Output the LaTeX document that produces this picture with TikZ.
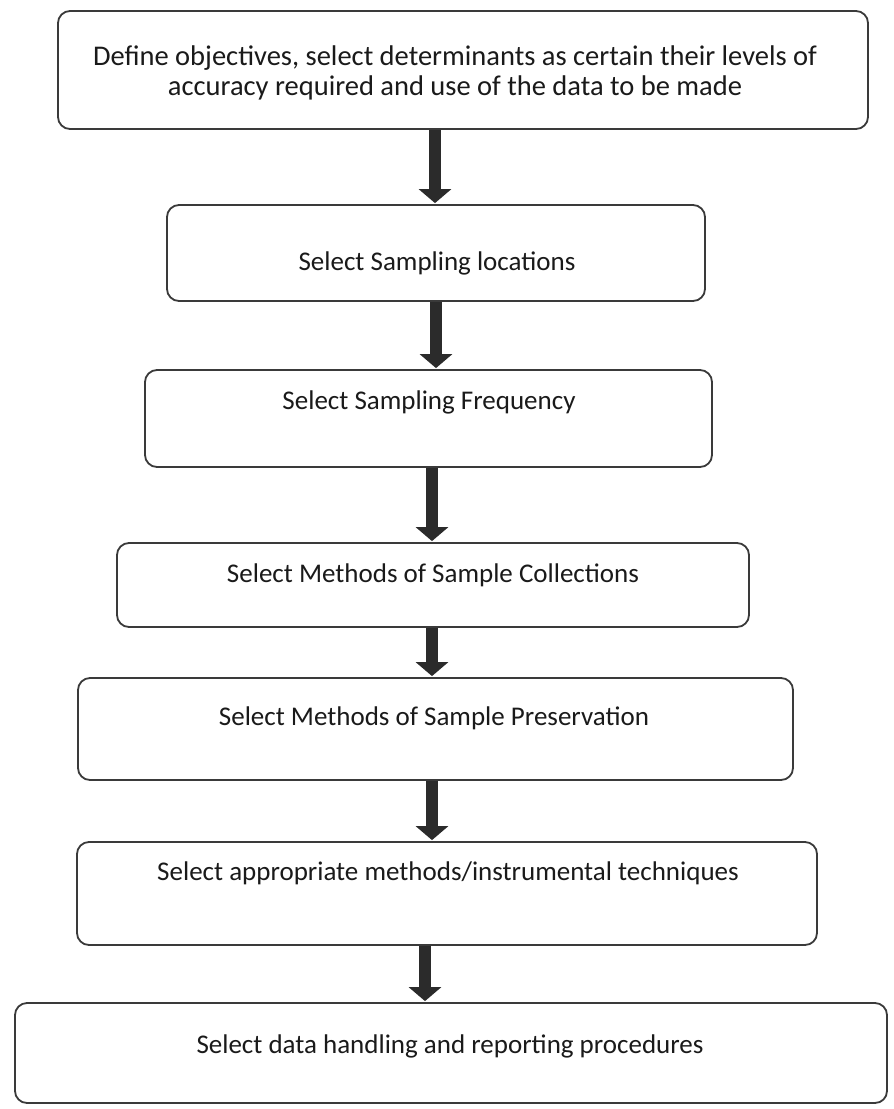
\documentclass[tikz,border=0pt]{standalone}
\usepackage{fontspec}
\setmainfont{Carlito}
\usetikzlibrary{arrows.meta}
\definecolor{boxline}{HTML}{3A3A3A}
\definecolor{arrowc}{HTML}{2B2B2B}
\definecolor{txt}{HTML}{1A1A1A}
\tikzset{
  flowbox/.style={draw=boxline, line width=1.8pt, rounded corners=12pt, inner sep=0pt},
  flowtext/.style={text=txt, font=\fontsize{27}{30}\selectfont, align=center, inner sep=0pt},
  flowarrow/.style={draw=arrowc, line width=12pt, -{Triangle[width=32pt,length=14pt]}, shorten >=1pt},
}
\begin{document}
\begin{tikzpicture}[x=1pt,y=-1pt]
\useasboundingbox (0,0) rectangle (894,1109);
\fill[white] (0,0) rectangle (894,1109);
% boxes
\node[flowbox, minimum width=810pt, minimum height=118pt] (b1) at (463,70) {};
\node[flowbox, minimum width=538pt, minimum height=96pt] (b2) at (436,253) {};
\node[flowbox, minimum width=567pt, minimum height=97pt] (b3) at (428.5,418.5) {};
\node[flowbox, minimum width=632pt, minimum height=84pt] (b4) at (433,585) {};
\node[flowbox, minimum width=715pt, minimum height=102pt] (b5) at (435.5,729) {};
\node[flowbox, minimum width=740pt, minimum height=103pt] (b6) at (447,893.5) {};
\node[flowbox, minimum width=872pt, minimum height=100pt] (b7) at (451,1053) {};
% texts
\node[flowtext, font=\fontsize{28.5}{30}\selectfont] (t1) at (455,73) {Define objectives, select determinants as certain their levels of\\accuracy required and use of the data to be made};
\node[flowtext] (t2) at (437,263) {Select Sampling locations};
\node[flowtext] (t3) at (429,402) {Select Sampling Frequency};
\node[flowtext] (t4) at (433,575) {Select Methods of Sample Collections};
\node[flowtext] (t5) at (434,718) {Select Methods of Sample Preservation};
\node[flowtext] (t6) at (448,873) {Select appropriate methods/instrumental techniques};
\node[flowtext] (t7) at (450,1046) {Select data handling and reporting procedures};
% arrow columns
\coordinate (c1) at (435,0);
\coordinate (c2) at (436,0);
\coordinate (c3) at (432,0);
\coordinate (c4) at (432,0);
\coordinate (c5) at (432,0);
\coordinate (c6) at (425,0);
\draw[flowarrow] (b1.south -| c1) -- (b2.north -| c1);
\draw[flowarrow] (b2.south -| c2) -- (b3.north -| c2);
\draw[flowarrow] (b3.south -| c3) -- (b4.north -| c3);
\draw[flowarrow] (b4.south -| c4) -- (b5.north -| c4);
\draw[flowarrow] (b5.south -| c5) -- (b6.north -| c5);
\draw[flowarrow] (b6.south -| c6) -- (b7.north -| c6);
\end{tikzpicture}
\end{document}
